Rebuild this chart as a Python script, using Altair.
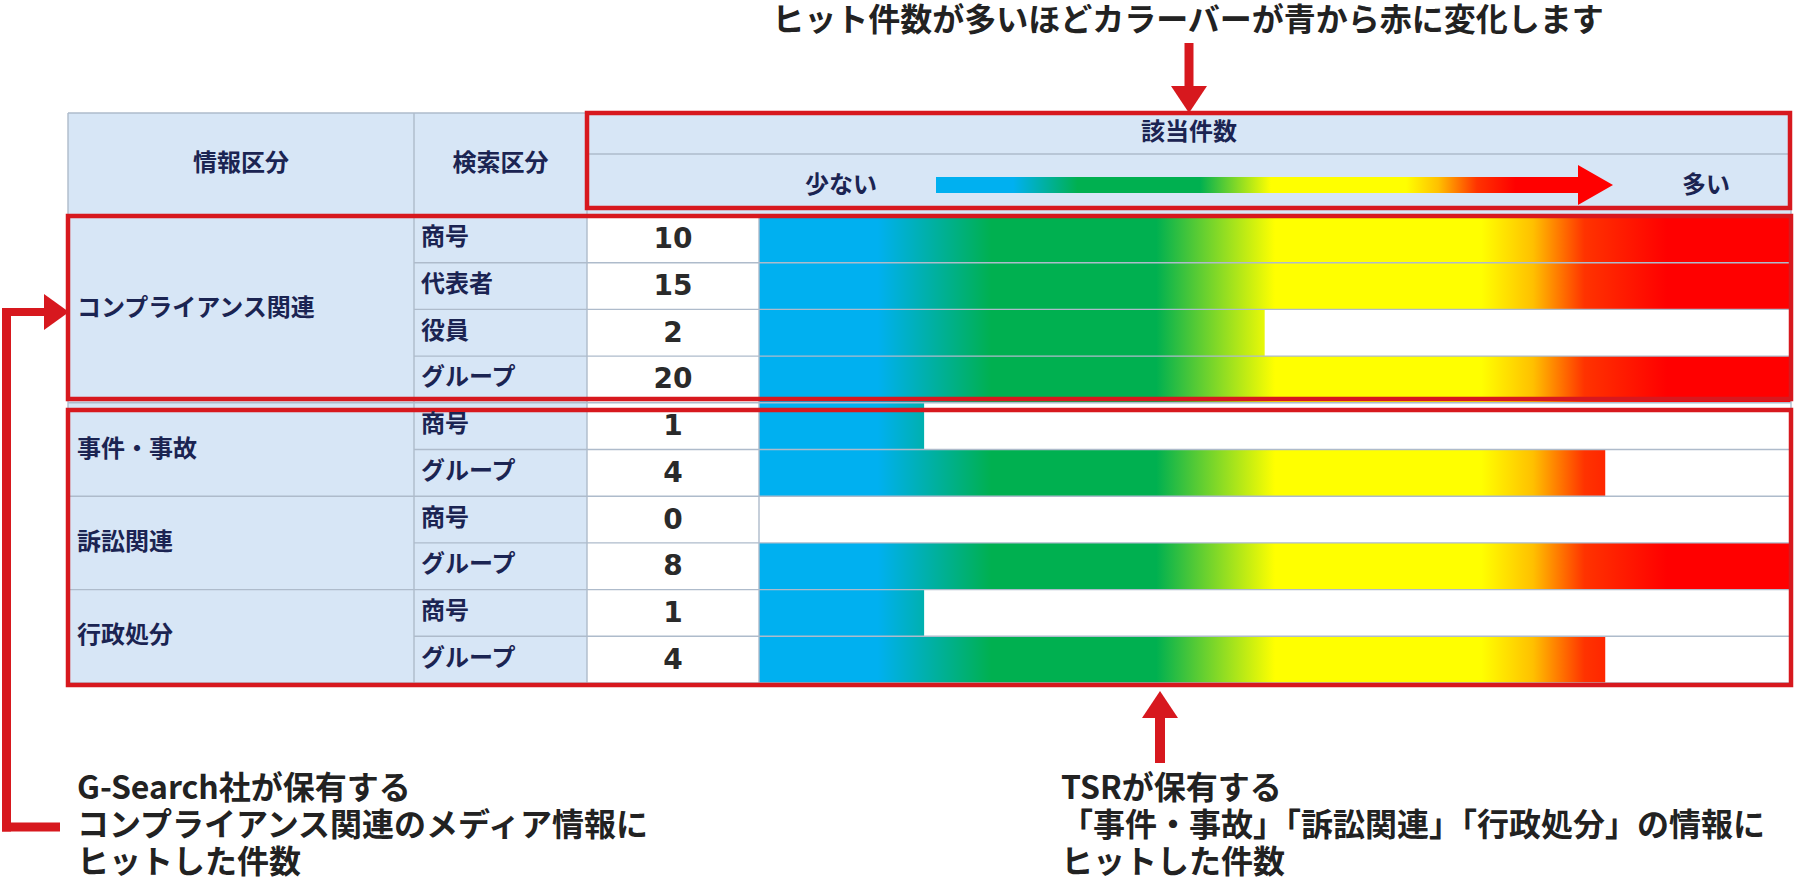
import altair as alt
import pandas as pd

W, H = 1800, 880

# ---------------- data ----------------
title_text = "ヒット件数が多いほどカラーバーが青から赤に変化します"
header_cols = ["情報区分", "検索区分"]
header_value = "該当件数"
legend_low, legend_high = "少ない", "多い"
groups = ["コンプライアンス関連", "事件・事故", "訴訟関連", "行政処分"]
group_sizes = [4, 2, 2, 2]
search_types = ["商号", "代表者", "役員", "グループ", "商号", "グループ", "商号", "グループ", "商号", "グループ"]
hit_counts = [10, 15, 2, 20, 1, 4, 0, 8, 1, 4]
bar_share = [1.0, 1.0, 0.49, 1.0, 0.16, 0.82, 0.0, 1.0, 0.16, 0.82]
note_left = ["G-Search社が保有する", "コンプライアンス関連のメディア情報に", "ヒットした件数"]
note_right = ["TSRが保有する", "「事件・事故」「訴訟関連」「行政処分」の情報に", "ヒットした件数"]

bar_colors = ["#00B0F0", "#00B0F0", "#00B050", "#00B050", "#FFFF00", "#FFFF00",
              "#FFC000", "#FF3300", "#FF0000", "#FF0000"]
bar_offsets = [0.0, 0.115, 0.225, 0.385, 0.5, 0.7, 0.75, 0.8, 0.88, 1.0]
legend_offsets = [0.0, 0.12, 0.22, 0.41, 0.52, 0.73, 0.78, 0.84, 0.9, 1.0]

# ---------------- layout ----------------
TL, C1, C2, C3, TR = 68, 414, 587, 759, 1791
HT, HM, HB = 113, 154, 216
ROW_H = 46.7
n = len(search_types)
row_top = [HB + ROW_H * i for i in range(n)]
row_bot = [t + ROW_H for t in row_top]
BOTTOM = row_bot[-1]
group_start = [sum(group_sizes[:k]) for k in range(len(groups))]

RED = "#D7181E"
NAVY = "#1B2452"
GRID = "#AEBBCB"
HEAD_BG = "#D7E6F6"
JP = "Noto Sans CJK JP"

PX = alt.Scale(domain=[0, W], range=[0, W], nice=False, zero=False)
PY = alt.Scale(domain=[0, H], range=[0, H], nice=False, zero=False)
FX = alt.Scale(domain=[0, 1], range=[C3, TR], nice=False, zero=False)


def X(f, s=PX):
    return alt.X(f, type="quantitative", scale=s, axis=None)


def Y(f):
    return alt.Y(f, type="quantitative", scale=PY, axis=None)


def grad(colors, offsets):
    return alt.Gradient(gradient="linear", x1=0, x2=1, y1=0, y2=0,
                        stops=[alt.GradientStop(color=c, offset=o) for c, o in zip(colors, offsets)])


def rects(df, **kw):
    return alt.Chart(df).mark_rect(**kw).encode(x=X("x"), x2="x2", y=Y("y"), y2="y2")


def rules(df, **kw):
    return alt.Chart(df).mark_rule(**kw).encode(x=X("x"), x2="x2", y=Y("y"), y2="y2")


def texts(df, **kw):
    return alt.Chart(df).mark_text(**kw).encode(x=X("x"), y=Y("y"), text="t:N")


layers = []

# backgrounds
layers.append(rects(pd.DataFrame({"x": [TL], "x2": [TR], "y": [HT], "y2": [HB]}), fill=HEAD_BG))
layers.append(rects(pd.DataFrame({"x": [TL], "x2": [C2], "y": [HB], "y2": [BOTTOM]}), fill=HEAD_BG))

# gradient bars (full colour scale), then white cover beyond each count's share
rows = pd.DataFrame({"count": hit_counts, "share": bar_share, "top": row_top, "bot": row_bot})
rows["zero"] = 0.0
rows["one"] = 1.0
layers.append(
    alt.Chart(rows[rows["count"] > 0]).mark_rect(fill=grad(bar_colors, bar_offsets), strokeWidth=0)
    .encode(x=X("zero", FX), x2="one", y=Y("top"), y2="bot")
)
layers.append(
    alt.Chart(rows).mark_rect(fill="white", strokeWidth=0)
    .encode(x=X("share", FX), x2="one", y=Y("top"), y2="bot")
)

# grid lines
seg = []
seg += [(TL, TR, HT, HT), (TL, TR, HB, HB), (TL, TR, BOTTOM, BOTTOM), (C2, TR, HM, HM)]
seg += [(TL, TL, HT, BOTTOM), (TR, TR, HT, BOTTOM), (C1, C1, HT, BOTTOM), (C2, C2, HT, BOTTOM),
        (C3, C3, HB, BOTTOM)]
for i in range(1, n):
    left = TL if i in group_start else C1
    seg.append((left, TR, row_top[i], row_top[i]))
grid = pd.DataFrame(seg, columns=["x", "x2", "y", "y2"])
layers.append(rules(grid, color=GRID, strokeWidth=1.4))

# legend colour bar in header
layers.append(rects(pd.DataFrame({"x": [936], "x2": [1580], "y": [177], "y2": [193]}),
                    fill=grad(bar_colors, legend_offsets), strokeWidth=0))

# right-pointing triangles (legend arrow head, left bracket head)
tri_r = pd.DataFrame({
    "id": ["a", "a", "b", "b"],
    "x": [1578, 1613, 44, 69],
    "y": [165, 185, 294, 312],
    "y2": [205, 185, 330, 312],
})
layers.append(alt.Chart(tri_r).mark_area(orient="vertical", opacity=1)
              .encode(x=X("x"), y=Y("y"), y2="y2", detail="id:N",
                      color=alt.Color("id:N", scale=alt.Scale(domain=["a", "b"], range=["#FF0000", RED]),
                                      legend=None)))

# vertical arrow heads (top down-arrow, bottom up-arrow)
tri_v = pd.DataFrame({
    "id": ["d", "d", "u", "u"],
    "y": [86, 113, 691, 718],
    "x": [1171, 1189, 1160, 1142],
    "x2": [1207, 1189, 1160, 1178],
})
layers.append(alt.Chart(tri_v).mark_area(orient="horizontal", color=RED, opacity=1)
              .encode(y=Y("y"), x=X("x"), x2="x2", detail="id:N"))

# arrow shafts and bracket
shafts = pd.DataFrame([
    (1189, 1189, 43, 88, 9),
    (1160, 1160, 716, 763, 10),
    (6.5, 6.5, 308, 831.5, 9),
    (2, 48, 312, 312, 8),
    (2, 60, 827, 827, 9),
], columns=["x", "x2", "y", "y2", "w"])
layers.append(alt.Chart(shafts).mark_rule(color=RED)
              .encode(x=X("x"), x2="x2", y=Y("y"), y2="y2",
                      strokeWidth=alt.StrokeWidth("w:Q", scale=None, legend=None)))

# red highlight boxes
boxes = pd.DataFrame({"x": [587, TL, TL], "x2": [1790, TR, TR], "y": [113, 216, 410], "y2": [208, 399, 685]})
layers.append(rects(boxes, fillOpacity=0, stroke=RED, strokeWidth=4.5))

# header texts
hdr = pd.DataFrame({"x": [(TL + C1) / 2, (C1 + C2) / 2, (C2 + TR) / 2, 841, 1706],
                    "y": [164, 164, 133, 186, 186],
                    "t": header_cols + [header_value, legend_low, legend_high]})
layers.append(texts(hdr, font=JP, fontSize=24, fontWeight="bold", color=NAVY,
                    align="center", baseline="middle"))

# group labels
glab = pd.DataFrame({"x": [77] * len(groups),
                     "y": [(row_top[s] + row_bot[s + k - 1]) / 2 for s, k in zip(group_start, group_sizes)],
                     "t": groups})
layers.append(texts(glab, font=JP, fontSize=24, fontWeight="bold", color=NAVY,
                    align="left", baseline="middle"))

# search type labels
slab = pd.DataFrame({"x": [421] * n, "y": [(a + b) / 2 - 1 for a, b in zip(row_top, row_bot)], "t": search_types})
layers.append(texts(slab, font=JP, fontSize=24, fontWeight="bold", color=NAVY,
                    align="left", baseline="middle"))

# counts
nums = pd.DataFrame({"x": [(C2 + C3) / 2] * n, "y": [(a + b) / 2 + 1 for a, b in zip(row_top, row_bot)],
                     "t": [str(v) for v in hit_counts]})
layers.append(texts(nums, font="DejaVu Sans", fontSize=28, fontWeight="bold", color="#2A2A2A",
                    align="center", baseline="middle"))

# title and notes
layers.append(texts(pd.DataFrame({"x": [1188], "y": [21], "t": [title_text]}),
                    font=JP, fontSize=32, fontWeight="bold", color="#222222",
                    align="center", baseline="middle"))
notes = pd.DataFrame({"x": [77, 1061], "y": [789, 789], "t": ["\n".join(note_left), "\n".join(note_right)]})
layers.append(texts(notes, font=JP, fontSize=32, fontWeight="bold", color="#222222",
                    align="left", baseline="middle", lineBreak="\n", lineHeight=37))

chart = (
    alt.layer(*layers)
    .resolve_scale(x="independent", y="independent")
    .properties(width=W, height=H, padding=0, autosize="none", background="white")
    .configure_view(stroke=None)
)

chart.save("out.html", embed_options={"renderer": "svg", "actions": False})
